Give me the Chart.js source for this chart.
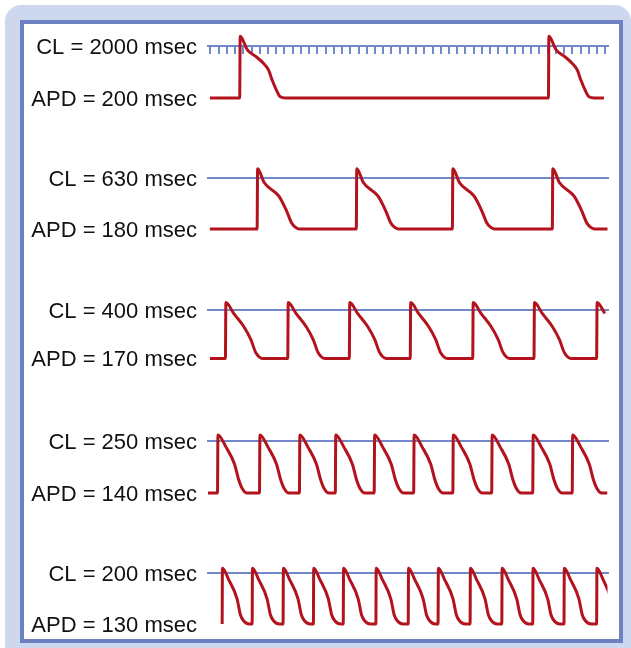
<!DOCTYPE html>
<html>
<head>
<meta charset="utf-8">
<title>Rate adaptation of action potential duration</title>
<script src="https://cdn.jsdelivr.net/npm/chart.js@4.4.0/dist/chart.umd.min.js"></script>
<style>
  html, body { margin: 0; padding: 0; background: #fff; width: 631px; height: 648px; overflow: hidden; }
  .frame { position: absolute; left: 5px; top: 5px; width: 626px; height: 670px; background: #cdd8ef; border-radius: 16px; }
  .panel { position: absolute; left: 20px; top: 20px; width: 595px; height: 615px; background: #fff; border: 4px solid #6d81c2; }
  .row { position: absolute; left: 0; width: 631px; height: 140px; }
</style>
</head>
<body>
<div class="frame"></div>
<div class="panel"></div>
<script>
// Data
const cycleLengths = [2000, 630, 400, 250, 200];
const apDurations = [200, 180, 170, 140, 130];

// upstroke time (msec) of every beat, one array per row
const row1Beats = [204, 2190];
const row2Beats = [316, 954, 1572, 2215];
const row3Beats = [112, 513, 909, 1301, 1703, 2097, 2500];
const row4Beats = [61, 331, 588, 819, 1069, 1323, 1575, 1825, 2089, 2343];
const row5Beats = [91, 284, 483, 678, 870, 1080, 1288, 1480, 1686, 1890, 2089, 2290, 2500];

// action potential shape of each row: [msec after upstroke, mV]
const row1Shape = [[0, -85], [3, 17], [48, -5], [101, -16], [154, -28], [186, -39], [208, -55], [236, -72], [261, -83], [294, -85]];
const row2Shape = [[0, -85], [3, 16], [45, -7], [140, -30], [190, -55], [220, -74], [245, -82], [270, -85]];
const row3Shape = [[0, -85], [3, 13], [53, -6], [118, -29], [164, -52], [196, -75], [239, -85]];
const row4Shape = [[0, -85], [3, 10], [55, -10], [110, -38], [135, -62], [160, -78], [190, -85]];
const row5Shape = [[0, -85], [2, 8], [42, -11], [96, -43], [118, -70], [139, -80], [175, -85]];

// where each trace starts and stops (msec)
const traceStart = [12, 12, 12, 0, 91];
const traceEnd = [2547, 2575, 2553, 2570, 2600];

const restPotential = -85;
const clLevel = 0;
const timeMax = 2570;

// stimulus ruler on the first row (msec)
const rulerStart = 16;
const rulerStep = 52.9;

// Layout
const rowLineY = [46.5, 178.3, 310, 441, 573];
const rowBaseY = [98, 229, 358.5, 493, 624];
const PAD = 30;
const CANVAS_H = 140;
const AREA_H = CANVAS_H - 2 * PAD;

const red = '#b3131d';
const blue = '#7387cb';

function buildTrace(beats, shape, start, end) {
    const points = [];
    if (start < beats[0]) {
        points.push({ x: start, y: restPotential });
    }
    beats.forEach(b => {
        shape.forEach(([dt, v]) => {
            if (b + dt <= end) {
                points.push({ x: b + dt, y: v });
            }
        });
    });
    const last = points[points.length - 1];
    if (last.y === restPotential && last.x < end) {
        points.push({ x: end, y: restPotential });
    }
    return points;
}

function makeRow(i, beats, shape) {
    const wrap = document.createElement('div');
    wrap.className = 'row';
    const top = Math.round(rowLineY[i]) - 20 - PAD;
    wrap.style.top = top + 'px';
    const canvas = document.createElement('canvas');
    wrap.appendChild(canvas);
    document.body.appendChild(wrap);

    // y range so that CL level and rest potential land on the picture's rows
    const k = (rowBaseY[i] - rowLineY[i]) / (clLevel - restPotential);
    const areaTop = top + PAD;
    const yMax = clLevel + (rowLineY[i] - areaTop) / k;
    const yMin = yMax - AREA_H / k;

    const clText = 'CL = ' + cycleLengths[i] + ' msec';
    const apdText = 'APD = ' + apDurations[i] + ' msec';

    return new Chart(canvas, {
        type: 'line',
        data: {
            datasets: [
                {
                    data: buildTrace(beats, shape, traceStart[i], traceEnd[i]),
                    borderColor: red,
                    borderWidth: 3,
                    pointRadius: 0,
                    fill: false,
                    cubicInterpolationMode: 'monotone'
                }
            ]
        },
        options: {
            responsive: true,
            maintainAspectRatio: false,
            animation: false,
            events: [],
            layout: { padding: { top: PAD, bottom: PAD, left: 0, right: 23.5 } },
            plugins: { legend: { display: false }, tooltip: { enabled: false } },
            scales: {
                x: {
                    type: 'linear',
                    min: 0,
                    max: timeMax,
                    position: { y: clLevel },
                    afterBuildTicks: s => {
                        const t = [];
                        for (let v = rulerStart; v <= timeMax; v += rulerStep) t.push({ value: v });
                        s.ticks = t;
                    },
                    ticks: { display: false, autoSkip: false },
                    grid: {
                        drawOnChartArea: false,
                        drawTicks: i === 0,
                        tickLength: 7,
                        color: blue,
                        lineWidth: 2
                    },
                    border: { display: true, color: blue, width: 2 }
                },
                y: {
                    min: yMin,
                    max: yMax,
                    afterBuildTicks: s => {
                        s.ticks = [{ value: restPotential }, { value: clLevel }];
                    },
                    afterFit: s => {
                        s.width = 208;
                    },
                    grid: { display: false, drawTicks: false },
                    border: { display: false },
                    ticks: {
                        padding: 11,
                        labelOffset: 1.5,
                        color: '#111',
                        font: { family: 'Liberation Sans, Arial, sans-serif', size: 22 },
                        callback: v => (v === clLevel ? clText : apdText)
                    }
                }
            }
        }
    });
}

makeRow(0, row1Beats, row1Shape);
makeRow(1, row2Beats, row2Shape);
makeRow(2, row3Beats, row3Shape);
makeRow(3, row4Beats, row4Shape);
makeRow(4, row5Beats, row5Shape);
</script>
</body>
</html>
